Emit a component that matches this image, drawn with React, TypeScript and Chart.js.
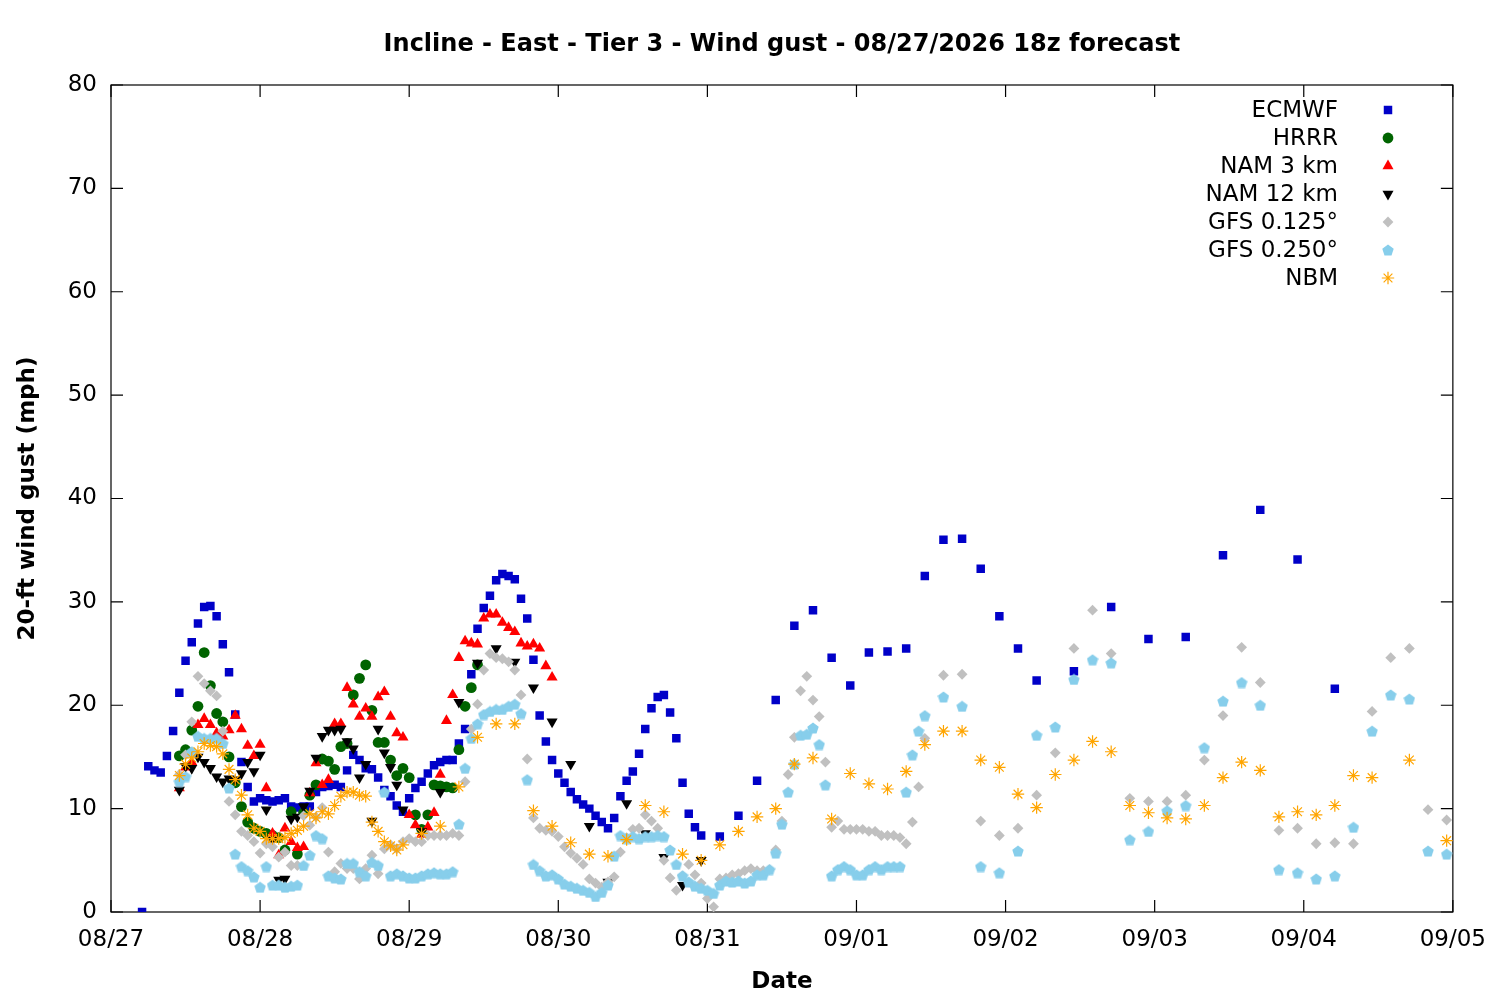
import { useEffect, useRef } from 'react';
import { Chart, registerables } from 'chart.js';
import { drawPoint } from 'chart.js/helpers';

Chart.register(...registerables);

// x axis is hours after 08/27 00:00 local time
const dateLabels = ['08/27', '08/28', '08/29', '08/30', '08/31', '09/01', '09/02', '09/03', '09/04', '09/05'];
const chartTitle = 'Incline - East - Tier 3 - Wind gust - 08/27/2026 18z forecast';
const yTitle = '20-ft wind gust (mph)';
const xTitle = 'Date';

// ECMWF: hourly h5-h95, 3-hourly h98-h149, 6-hourly h155-h197
const ecmwfHourly = [
  0, 14.1, 13.7, 13.5, 15.1, 17.5, 21.2, 24.3, 26.1, 27.9,
  29.5, 29.6, 28.6, 25.9, 23.2, 19.1, 14.5, 12.1, 10.7, 11.0,
  10.8, 10.7, 10.8, 11.0, 10.2, 10.1, 10.2, 10.2, 11.6, 12.1,
  12.2, 12.3, 12.1, 13.7, 15.2, 14.7, 13.9, 13.8, 13.0, 11.8,
  11.2, 10.3, 9.7, 11.0, 12.0, 12.6, 13.4, 14.2, 14.5, 14.7,
  14.7, 16.3, 17.7, 23.0, 27.4, 29.4, 30.6, 32.1, 32.7, 32.5,
  32.2, 30.3, 28.4, 24.4, 19.0, 16.5, 14.7, 13.4, 12.5, 11.6,
  10.9, 10.4, 10.0, 9.3, 8.7, 8.1, 9.1, 11.2, 12.7, 13.6,
  15.3, 17.7, 19.7, 20.8, 21.0, 19.3, 16.8, 12.5, 9.5, 8.2,
  7.4,
];
const ecmwf3h = [7.3, 9.3, 12.7, 20.5, 27.7, 29.2, 24.6, 21.9, 25.1, 25.2, 25.5, 32.5, 36.0, 36.1, 33.2, 28.6, 25.5, 22.4];
const ecmwf6h = [23.3, 29.5, 26.4, 26.6, 34.5, 38.9, 34.1, 21.6];

// HRRR: hourly h11-h59
const hrrrHourly = [
  15.1, 15.7, 17.6, 19.9, 25.1, 21.9, 19.2, 18.4, 15.0, 12.5,
  10.2, 8.7, 8.1, 7.8, 7.6, 7.4, 7.2, 6.0, 9.7, 5.6,
  9.6, 11.3, 12.3, 14.8, 14.6, 13.8, 16.0, 16.3, 21.0, 22.6,
  23.9, 19.5, 16.4, 16.4, 14.7, 13.2, 13.9, 13.0, 9.4, 8.0,
  9.4, 12.3, 12.2, 12.1, 12.0, 15.7, 19.9, 21.7, 23.9,
];

// NAM 3 km: hourly h11-h71
const nam3Hourly = [
  12.0, 14.0, 14.5, 18.1, 18.7, 18.1, 17.3, 17.0, 17.6, 19.0,
  17.7, 16.1, 15.1, 16.2, 12.0, 7.6, 5.5, 8.1, 6.8, 6.2,
  6.3, 11.5, 14.4, 12.3, 12.8, 18.2, 18.2, 21.7, 20.1, 18.9,
  19.7, 18.9, 20.8, 21.3, 18.9, 17.3, 16.9, 9.4, 8.4, 7.5,
  8.2, 9.6, 13.3, 18.5, 21.0, 24.6, 26.2, 26.0, 25.9, 28.4,
  28.8, 28.8, 28.0, 27.5, 27.1, 26.0, 25.7, 25.9, 25.5, 23.8,
  22.7,
];

// NAM 12 km: hourly h11-h47, 3-hourly h50-h95
const nam12Hourly = [
  11.8, 14.1, 13.9, 15.0, 14.5, 13.9, 13.1, 12.6, 12.9, 12.8,
  13.4, 14.5, 13.6, 15.2, 9.9, 7.0, 3.1, 3.2, 9.0, 9.2,
  10.2, 11.7, 14.9, 17.0, 17.6, 17.6, 17.7, 16.5, 15.8, 13.0,
  14.3, 8.8, 17.7, 15.4, 14.0, 12.3, 9.9,
];
const nam12_3h = [7.8, 11.6, 20.3, 24.1, 25.5, 24.2, 21.7, 18.4, 14.3, 8.3, 2.9, 10.5, 7.6, 5.3, 2.6, 5.0];

// GFS 0.125: hourly h11-h131, 3-hourly h134-h215
const gfs125Hourly = [
  13.3, 15.2, 18.4, 22.8, 22.1, 21.4, 20.9, 17.5, 10.7, 9.4,
  7.8, 7.4, 6.8, 5.7, 6.6, 6.3, 5.3, 5.8, 4.5, 4.5,
  9.3, 8.4, 9.2, 10.1, 5.8, 3.9, 4.7, 4.2, 4.2, 3.2,
  4.2, 5.5, 3.7, 6.1, 6.5, 6.1, 6.8, 7.1, 6.8, 6.8,
  7.4, 7.4, 7.4, 7.4, 7.6, 7.4, 12.6, 17.7, 20.1, 23.4,
  25.0, 24.6, 24.5, 24.2, 23.4, 21.0, 14.8, 9.1, 8.1, 7.9,
  7.8, 7.3, 6.3, 5.7, 5.2, 4.6, 3.2, 2.8, 2.4, 2.9,
  3.4, 5.8, 7.2, 8.0, 8.1, 9.4, 8.8, 8.1, 5.0, 3.3,
  2.1, 3.5, 4.6, 3.6, 2.8, 1.3, 0.5, 3.2, 3.3, 3.6,
  3.7, 4.0, 4.2, 4.0, 4.0, 4.1, 6.0, 8.8, 13.3, 16.9,
  21.4, 22.8, 20.5, 18.9, 14.5, 8.2, 8.8, 8.0, 8.0, 8.0,
  8.0, 7.8, 7.8, 7.4, 7.4, 7.4, 7.2, 6.6, 8.7, 12.1,
  16.8,
];
const gfs125_3h = [
  22.9, 23.0, 8.8, 7.4, 8.1, 11.3, 15.4, 25.5, 29.2, 25.0,
  11.0, 10.7, 10.7, 11.3, 14.7, 19.0, 25.6, 22.2, 7.9, 8.1,
  6.6, 6.7, 6.6, 19.4, 24.6, 25.5, 9.9, 8.9,
];

// GFS 0.250: hourly h11-h131, 3-hourly h134-h215
const gfs250Hourly = [
  12.6, 13.1, 15.5, 17.0, 16.8, 16.8, 16.8, 16.3, 12.0, 5.6,
  4.4, 4.0, 3.4, 2.4, 4.4, 2.6, 2.6, 2.4, 2.5, 2.6,
  4.5, 5.5, 7.4, 7.1, 3.5, 3.3, 3.2, 4.7, 4.7, 3.9,
  3.5, 4.8, 4.5, 11.6, 3.5, 3.7, 3.5, 3.3, 3.3, 3.5,
  3.7, 3.8, 3.7, 3.7, 3.9, 8.5, 13.9, 16.8, 18.2, 19.1,
  19.4, 19.6, 19.6, 19.9, 20.1, 19.2, 12.8, 4.6, 4.0, 3.5,
  3.6, 3.2, 2.7, 2.5, 2.3, 2.1, 1.9, 1.5, 1.9, 2.6,
  5.4, 7.4, 7.1, 7.3, 7.1, 7.3, 7.3, 7.4, 7.3, 6.0,
  4.6, 3.5, 2.9, 2.5, 2.3, 2.1, 1.8, 2.6, 3.0, 2.9,
  3.0, 2.8, 3.0, 3.6, 3.6, 4.1, 5.7, 8.5, 11.6, 14.3,
  17.1, 17.2, 17.8, 16.2, 12.3, 3.5, 4.1, 4.4, 4.1, 3.6,
  3.6, 4.1, 4.4, 4.1, 4.4, 4.4, 4.4, 11.6, 15.2, 17.5,
  19.0,
];
const gfs250_3h = [
  20.8, 19.9, 4.4, 3.8, 5.9, 17.1, 17.9, 22.5, 24.4, 24.1,
  7.0, 7.8, 9.8, 10.3, 15.9, 20.4, 22.2, 20.0, 4.1, 3.8,
  3.2, 3.5, 8.2, 17.5, 21.0, 20.6, 5.9, 5.6,
];

// NBM: hourly h11-h47, 3-hourly h50-h203, 6-hourly h209-h215
const nbmHourly = [
  13.2, 14.3, 14.9, 15.5, 16.3, 16.1, 16.0, 15.3, 13.8, 12.8,
  11.3, 9.4, 8.1, 7.8, 7.1, 7.1, 7.1, 7.2, 7.6, 7.9,
  8.3, 9.5, 9.1, 9.7, 9.5, 10.3, 11.2, 11.6, 11.6, 11.3,
  11.2, 8.7, 7.8, 6.8, 6.4, 6.0, 6.5,
];
const nbm3h = [
  7.6, 8.3, 12.1, 16.9, 18.2, 18.2, 9.8, 8.3, 6.7, 5.6,
  5.4, 7.0, 10.3, 9.7, 5.6, 5.0, 6.5, 7.8, 9.2, 10.0,
  14.3, 14.9, 9.0, 13.4, 12.4, 11.9, 13.6, 16.2, 17.5, 17.5,
  14.7, 14.0, 11.4, 10.1, 13.3, 14.7, 16.5, 15.5, 10.3, 9.6,
  9.1, 9.0, 10.3, 13.0, 14.5, 13.7, 9.2, 9.7, 9.4, 10.3,
  13.2, 13.0,
];
const nbm6h = [14.7, 6.9];

type Seg = [number, number, number[]]; // first hour, step in hours, values

const toPoints = (segs: Seg[]) =>
  segs.flatMap(([start, step, vals]) => vals.map((y, i) => ({ x: start + i * step, y })));

function pentagon(size: number, color: string) {
  const c = document.createElement('canvas');
  c.width = size;
  c.height = size;
  const g = c.getContext('2d')!;
  const r = size / 2;
  g.fillStyle = color;
  g.beginPath();
  for (let i = 0; i < 5; i++) {
    const a = -Math.PI / 2 + (i * 2 * Math.PI) / 5;
    const px = r + r * Math.cos(a);
    const py = r + 0.6 + r * Math.sin(a);
    if (i === 0) g.moveTo(px, py);
    else g.lineTo(px, py);
  }
  g.closePath();
  g.fill();
  return c;
}

const FONT = 'DejaVu Sans';

const framePlugin = {
  id: 'gnuFrame',
  beforeDatasetsDraw(chart: any) {
    const { ctx, chartArea: a, scales } = chart;
    ctx.save();
    ctx.strokeStyle = '#000';
    ctx.lineWidth = 1.2;
    ctx.strokeRect(a.left, a.top, a.right - a.left, a.bottom - a.top);
    ctx.beginPath();
    const len = 12;
    scales.y.ticks.forEach((t: any) => {
      const y = scales.y.getPixelForValue(t.value);
      ctx.moveTo(a.left, y);
      ctx.lineTo(a.left + len, y);
      ctx.moveTo(a.right, y);
      ctx.lineTo(a.right - len, y);
    });
    scales.x.ticks.forEach((t: any) => {
      const x = scales.x.getPixelForValue(t.value);
      ctx.moveTo(x, a.bottom);
      ctx.lineTo(x, a.bottom - len);
      ctx.moveTo(x, a.top);
      ctx.lineTo(x, a.top + len);
    });
    ctx.stroke();
    ctx.restore();
  },
  afterDraw(chart: any) {
    const { ctx, chartArea: a } = chart;
    const cx = (a.left + a.right) / 2;
    ctx.save();
    ctx.fillStyle = '#000';
    ctx.textBaseline = 'middle';
    ctx.textAlign = 'center';
    ctx.font = `bold 24px "${FONT}"`;
    ctx.fillText(chartTitle, cx, 45);
    ctx.font = `bold 23px "${FONT}"`;
    ctx.fillText(xTitle, cx, 982);
    ctx.save();
    ctx.translate(28, (a.top + a.bottom) / 2);
    ctx.rotate(-Math.PI / 2);
    ctx.fillText(yTitle, 0, 0);
    ctx.restore();

    // key in the top right corner: label right aligned, marker to its right
    ctx.font = `23px "${FONT}"`;
    ctx.textAlign = 'right';
    chart.data.datasets.forEach((ds: any, i: number) => {
      const y = 111 + i * 28;
      ctx.fillStyle = '#000';
      ctx.fillText(ds.label, 1338, y);
      ctx.fillStyle = ds.backgroundColor;
      ctx.strokeStyle = ds.borderColor;
      ctx.lineWidth = ds.borderWidth;
      drawPoint(
        ctx,
        {
          pointStyle: ds.pointStyle,
          radius: ds.pointRadius,
          rotation: ds.pointRotation || 0,
          borderWidth: ds.borderWidth,
        } as any,
        1388,
        y - 1
      );
    });
    ctx.restore();
  },
};

export default function App() {
  const canvasRef = useRef<HTMLCanvasElement | null>(null);

  useEffect(() => {
    const el = canvasRef.current;
    if (!el) return;

    const filled = (label: string, color: string, style: any, radius: number, data: any[], extra = {}) => ({
      label,
      data,
      pointStyle: style,
      pointRadius: radius,
      pointHoverRadius: radius,
      backgroundColor: color,
      borderColor: color,
      borderWidth: 0,
      ...extra,
    });

    const datasets: any[] = [
      filled('ECMWF', '#0000c8', 'rect', 6,
        toPoints([[5, 1, ecmwfHourly], [98, 3, ecmwf3h], [155, 6, ecmwf6h]])),
      filled('HRRR', '#006400', 'circle', 5.4, toPoints([[11, 1, hrrrHourly]])),
      filled('NAM 3 km', '#ff0000', 'triangle', 6.4, toPoints([[11, 1, nam3Hourly]])),
      filled('NAM 12 km', '#000000', 'triangle', 6.4,
        toPoints([[11, 1, nam12Hourly], [50, 3, nam12_3h]]), { pointRotation: 180 }),
      filled('GFS 0.125°', '#c0c0c0', 'rectRot', 5.4,
        toPoints([[11, 1, gfs125Hourly], [134, 3, gfs125_3h]])),
      filled('GFS 0.250°', '#87ceeb', pentagon(12, '#87ceeb'), 6,
        toPoints([[11, 1, gfs250Hourly], [134, 3, gfs250_3h]])),
      filled('NBM', '#ffa500', 'star', 6.2,
        toPoints([[11, 1, nbmHourly], [50, 3, nbm3h], [209, 6, nbm6h]]), { borderWidth: 1.2 }),
    ];
    datasets.forEach((d, i) => (d.order = datasets.length - 1 - i));

    const tickFont = { family: FONT, size: 23 };

    const chart = new Chart(el, {
      type: 'scatter',
      data: { datasets },
      options: {
        animation: false,
        responsive: false,
        layout: { padding: { top: 85, right: 43, left: 0, bottom: 0 } },
        plugins: {
          legend: { display: false },
          tooltip: { enabled: false },
          title: { display: false },
        },
        scales: {
          x: {
            type: 'linear',
            min: 0,
            max: 216,
            afterFit: (s: any) => {
              s.height = 88;
            },
            grid: { display: false, drawTicks: false },
            border: { display: false },
            ticks: {
              stepSize: 24,
              padding: 14,
              color: '#000',
              font: tickFont,
              maxRotation: 0,
              autoSkip: false,
              callback: (v: any) => dateLabels[Math.round(Number(v) / 24)] ?? '',
            },
          },
          y: {
            type: 'linear',
            min: 0,
            max: 80,
            afterFit: (s: any) => {
              s.width = 111;
            },
            grid: { display: false, drawTicks: false },
            border: { display: false },
            ticks: { stepSize: 10, padding: 14, color: '#000', font: tickFont },
          },
        },
      },
      plugins: [framePlugin],
    } as any);

    return () => {
      chart.destroy();
    };
  }, []);

  return (
    <div style={{ position: 'absolute', left: 0, top: 0, width: 1500, height: 1000, background: '#fff' }}>
      <canvas ref={canvasRef} width={1500} height={1000} style={{ display: 'block' }} />
    </div>
  );
}
